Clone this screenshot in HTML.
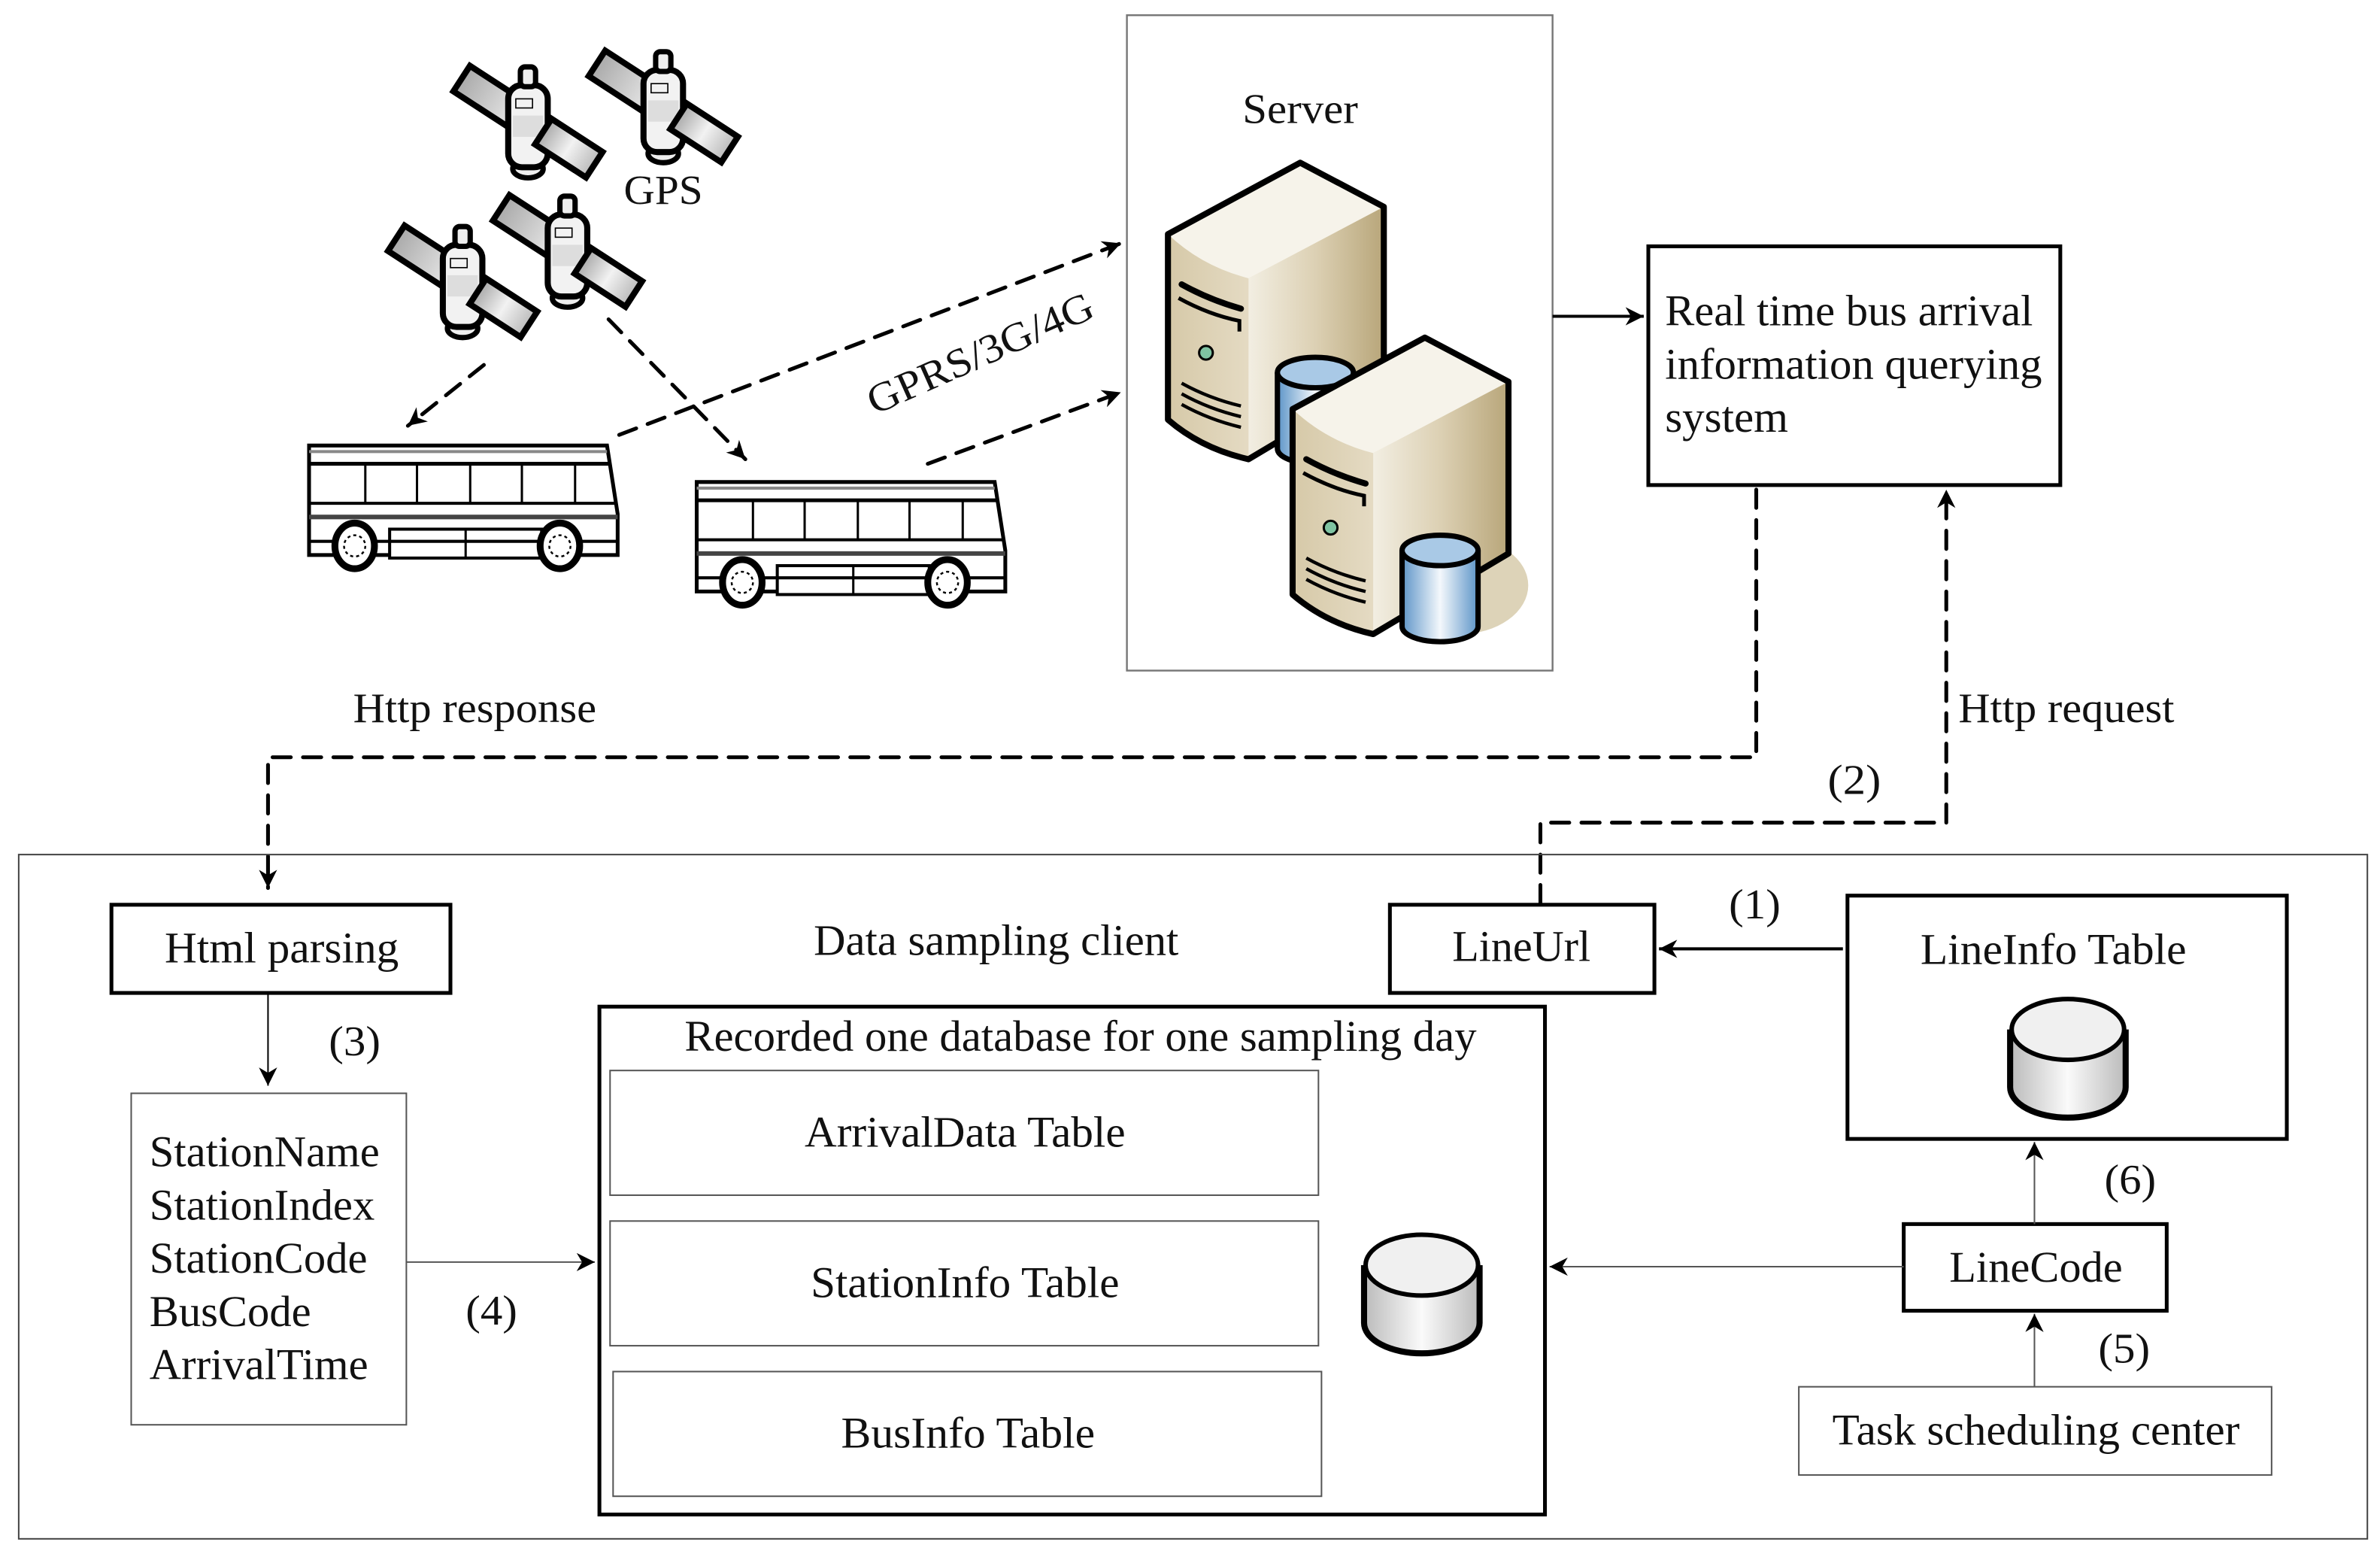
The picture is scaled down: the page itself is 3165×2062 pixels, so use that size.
<!DOCTYPE html>
<html><head><meta charset="utf-8"><style>html,body{margin:0;padding:0;background:#fff}svg{display:block}</style></head>
<body>
<svg width="3165" height="2062" viewBox="0 0 1565 1020" xmlns="http://www.w3.org/2000/svg" font-family="'Liberation Serif', serif" fill="#111">
<defs>
<marker id="ahb" viewBox="0 0 10 10" refX="10" refY="5" markerWidth="14" markerHeight="12" markerUnits="userSpaceOnUse" orient="auto"><path d="M0,0 L10,5 L0,10 L3,5 Z" fill="#000"/></marker>
<linearGradient id="beigeL" x1="0" x2="1"><stop offset="0" stop-color="#d6c9a8"/><stop offset="0.6" stop-color="#ede5d3"/><stop offset="1" stop-color="#e6dcc4"/></linearGradient>
<linearGradient id="beigeR" x1="0" x2="1"><stop offset="0" stop-color="#f2eee2"/><stop offset="0.5" stop-color="#dcd0b3"/><stop offset="1" stop-color="#b8a67a"/></linearGradient>
<linearGradient id="blue" x1="0" x2="1"><stop offset="0" stop-color="#5d95c8"/><stop offset="0.5" stop-color="#f4f8fc"/><stop offset="1" stop-color="#5d95c8"/></linearGradient>
<linearGradient id="gray" x1="0" x2="1"><stop offset="0" stop-color="#bbb"/><stop offset="0.5" stop-color="#fafafa"/><stop offset="1" stop-color="#bbb"/></linearGradient>
<linearGradient id="panel" x1="0" x2="1"><stop offset="0" stop-color="#aaa"/><stop offset="0.5" stop-color="#f2f2f2"/><stop offset="1" stop-color="#bbb"/></linearGradient>
<g id="sat">
  <g transform="rotate(33)">
    <rect x="-52" y="-10" width="104" height="20" fill="url(#panel)" stroke="#000" stroke-width="4"/>
  </g>
  <ellipse cx="0" cy="31" rx="10" ry="6" fill="#eee" stroke="#000" stroke-width="3.5"/>
  <rect x="-13" y="-24" width="26" height="54" rx="9" fill="#f2f2f2" stroke="#000" stroke-width="4"/>
  <rect x="-10" y="-4" width="20" height="14" fill="#ddd"/>
  <rect x="-8" y="-15" width="11" height="6" fill="none" stroke="#000" stroke-width="0.8"/>
  <rect x="-5" y="-36" width="10" height="13" rx="3" fill="#eee" stroke="#000" stroke-width="3.5"/>
  <g transform="rotate(33)"><rect x="12" y="-10" width="40" height="20" fill="url(#panel)" stroke="#000" stroke-width="4"/></g>
</g>
<g id="bus" fill="none" stroke="#000">
  <path d="M0,0 L196,0 L203,45 L203,72 L0,72 Z" fill="#fff" stroke-width="2.5"/>
  <line x1="0" y1="4" x2="196" y2="4" stroke="#888" stroke-width="2"/>
  <line x1="0" y1="12" x2="198" y2="12" stroke-width="2.5"/>
  <line x1="0" y1="38" x2="201" y2="38" stroke-width="2"/>
  <line x1="37" y1="12" x2="37" y2="38" stroke-width="1.5"/>
  <line x1="71" y1="12" x2="71" y2="38" stroke-width="1.5"/>
  <line x1="106" y1="12" x2="106" y2="38" stroke-width="1.5"/>
  <line x1="140" y1="12" x2="140" y2="38" stroke-width="1.5"/>
  <line x1="175" y1="12" x2="175" y2="38" stroke-width="1.5"/>
  <line x1="0" y1="47" x2="203" y2="47" stroke-width="3" stroke="#444"/>
  <rect x="53" y="55" width="100" height="19" fill="#fff" stroke-width="2"/>
  <line x1="103" y1="55" x2="103" y2="74" stroke-width="1.5"/>
  <line x1="0" y1="63" x2="203" y2="63" stroke-width="2"/>
  <ellipse cx="30" cy="66" rx="13" ry="15" fill="#fff" stroke-width="4.5"/>
  <circle cx="30" cy="66" r="7" stroke-width="1.2" stroke-dasharray="2,2"/>
  <ellipse cx="165" cy="66" rx="13" ry="15" fill="#fff" stroke-width="4.5"/>
  <circle cx="165" cy="66" r="7" stroke-width="1.2" stroke-dasharray="2,2"/>
</g>
<g id="server">
  <path d="M768,154 L855,107 L910,136 L910,249 L821,302 Q790,295 768,276 Z" fill="url(#beigeL)"/>
  <path d="M821,183 L910,136 L910,249 L821,302 Z" fill="url(#beigeR)"/>
  <path d="M768,154 L855,107 L910,136 L821,183 Q790,175 768,154 Z" fill="#f6f3ea"/>
  <path d="M768,154 L855,107 L910,136 L910,249 L821,302 Q790,295 768,276 Z" fill="none" stroke="#000" stroke-width="4" stroke-linejoin="round"/>
  <path d="M777,187 Q795,197 816,203" stroke="#000" stroke-width="4" fill="none" stroke-linecap="round"/>
  <path d="M775,196 Q795,207 815,211 L815,218" stroke="#000" stroke-width="2.5" fill="none"/>
  <circle cx="793" cy="232" r="4.5" fill="#7fc3a2" stroke="#000" stroke-width="1.5"/>
  <path d="M777,252 Q795,262 816,267 M777,259 Q795,269 816,274 M777,266 Q795,276 816,281" stroke="#000" stroke-width="2.2" fill="none"/>
</g>
<g id="cyl">
  <path d="M0,10 L0,60 A25,10 0 0 0 50,60 L50,10" fill="url(#blue)" stroke="#000" stroke-width="3.5"/>
  <ellipse cx="25" cy="10" rx="25" ry="10" fill="#a9c9e6" stroke="#000" stroke-width="3.5"/>
</g>
<g id="gcyl">
  <path d="M0,20 L0,58 A38,20 0 0 0 76,58 L76,20" fill="url(#gray)" stroke="#000" stroke-width="4"/>
  <ellipse cx="38" cy="20" rx="37" ry="20" fill="#f0f0f0" stroke="#000" stroke-width="3"/>
</g>
</defs>

<use href="#sat" x="347" y="80"/>
<use href="#sat" x="436" y="70"/>
<use href="#sat" x="304" y="185"/>
<use href="#sat" x="373" y="165"/>
<text x="410" y="134" font-size="27" textLength="52" lengthAdjust="spacingAndGlyphs">GPS</text>

<use href="#bus" x="203" y="293"/>
<use href="#bus" x="458" y="317"/>

<g stroke="#000" stroke-width="2.5" stroke-dasharray="12,8" stroke-linecap="round" fill="none">
  <path d="M318,240 L268,280" marker-end="url(#ahb)"/>
  <path d="M400,210 L490,302" marker-end="url(#ahb)"/>
  <path d="M407,286 L737,160" marker-end="url(#ahb)"/>
  <path d="M610,305 L737,258" marker-end="url(#ahb)"/>
</g>
<text transform="translate(575,273) rotate(-24)" font-size="27" textLength="160" lengthAdjust="spacingAndGlyphs">GPRS/3G/4G</text>

<rect x="741" y="10" width="280" height="431" fill="none" stroke="#777" stroke-width="1.2"/>
<text x="817" y="81" font-size="28" textLength="76" lengthAdjust="spacingAndGlyphs">Server</text>
<use href="#server"/>
<use href="#cyl" x="840" y="235"/>
<ellipse cx="960" cy="385" rx="45" ry="32" fill="#ddd3b8"/>
<use href="#server" transform="translate(82,115)"/>
<use href="#cyl" x="922" y="352"/>

<rect x="1084" y="162" width="271" height="157" fill="none" stroke="#000" stroke-width="2.5"/>
<text x="1095" y="214" font-size="29" textLength="242" lengthAdjust="spacingAndGlyphs">Real time bus arrival</text>
<text x="1095" y="249" font-size="29" textLength="248" lengthAdjust="spacingAndGlyphs">information querying</text>
<text x="1095" y="284" font-size="29" textLength="81" lengthAdjust="spacingAndGlyphs">system</text>
<path d="M1021,208 L1081,208" stroke="#000" stroke-width="2" marker-end="url(#ahb)"/>

<g stroke="#000" stroke-width="2.5" stroke-dasharray="12,8" stroke-linecap="round" fill="none">
  <path d="M1155,322 L1155,498 L176,498 L176,584" marker-end="url(#ahb)"/>
  <path d="M1013,594 L1013,541 L1280,541 L1280,322" marker-end="url(#ahb)"/>
</g>
<text x="232" y="475" font-size="28" textLength="160" lengthAdjust="spacingAndGlyphs">Http response</text>
<text x="1288" y="475" font-size="28" textLength="142" lengthAdjust="spacingAndGlyphs">Http request</text>
<text x="1202" y="522" font-size="28" textLength="35" lengthAdjust="spacingAndGlyphs">(2)</text>

<rect x="12" y="562" width="1545" height="450" fill="none" stroke="#444" stroke-width="1"/>
<rect x="73" y="595" width="223" height="58" fill="none" stroke="#000" stroke-width="2.5"/>
<text x="108" y="633" font-size="29" textLength="154" lengthAdjust="spacingAndGlyphs">Html parsing</text>
<text x="535" y="628" font-size="29" textLength="240" lengthAdjust="spacingAndGlyphs">Data sampling client</text>
<rect x="914" y="595" width="174" height="58" fill="none" stroke="#000" stroke-width="2.5"/>
<text x="955" y="632" font-size="29" textLength="91" lengthAdjust="spacingAndGlyphs">LineUrl</text>
<rect x="1215" y="589" width="289" height="160" fill="none" stroke="#000" stroke-width="2.5"/>
<text x="1263" y="634" font-size="29" textLength="175" lengthAdjust="spacingAndGlyphs">LineInfo Table</text>
<use href="#gcyl" x="1322" y="657"/>
<path d="M1212,624 L1091,624" stroke="#000" stroke-width="2" marker-end="url(#ahb)"/>
<text x="1137" y="604" font-size="28" textLength="34" lengthAdjust="spacingAndGlyphs">(1)</text>

<path d="M176,654 L176,714" stroke="#000" stroke-width="1" marker-end="url(#ahb)"/>
<text x="216" y="694" font-size="28" textLength="34" lengthAdjust="spacingAndGlyphs">(3)</text>

<rect x="86" y="719" width="181" height="218" fill="none" stroke="#555" stroke-width="1"/>
<text font-size="29">
<tspan x="98" y="767">StationName</tspan>
<tspan x="98" y="802">StationIndex</tspan>
<tspan x="98" y="837">StationCode</tspan>
<tspan x="98" y="872">BusCode</tspan>
<tspan x="98" y="907">ArrivalTime</tspan>
</text>
<path d="M267,830 L391,830" stroke="#555" stroke-width="1" marker-end="url(#ahb)"/>
<text x="306" y="871" font-size="28" textLength="34" lengthAdjust="spacingAndGlyphs">(4)</text>

<rect x="394" y="662" width="622" height="334" fill="none" stroke="#000" stroke-width="2.5"/>
<text x="450" y="691" font-size="29" textLength="521" lengthAdjust="spacingAndGlyphs">Recorded one database for one sampling day</text>
<rect x="401" y="704" width="466" height="82" fill="none" stroke="#555" stroke-width="1"/>
<rect x="401" y="803" width="466" height="82" fill="none" stroke="#555" stroke-width="1"/>
<rect x="403" y="902" width="466" height="82" fill="none" stroke="#555" stroke-width="1"/>
<text x="529" y="754" font-size="29" textLength="211" lengthAdjust="spacingAndGlyphs">ArrivalData Table</text>
<text x="533" y="853" font-size="29" textLength="203" lengthAdjust="spacingAndGlyphs">StationInfo Table</text>
<text x="553" y="952" font-size="29" textLength="167" lengthAdjust="spacingAndGlyphs">BusInfo Table</text>
<use href="#gcyl" x="897" y="812"/>

<rect x="1252" y="805" width="173" height="57" fill="none" stroke="#000" stroke-width="2.5"/>
<text x="1282" y="843" font-size="29" textLength="114" lengthAdjust="spacingAndGlyphs">LineCode</text>
<path d="M1252,833 L1019,833" stroke="#555" stroke-width="1" marker-end="url(#ahb)"/>
<path d="M1338,805 L1338,751" stroke="#555" stroke-width="1" marker-end="url(#ahb)"/>
<text x="1384" y="785" font-size="28" textLength="34" lengthAdjust="spacingAndGlyphs">(6)</text>
<rect x="1183" y="912" width="311" height="58" fill="none" stroke="#555" stroke-width="1"/>
<text x="1205" y="950" font-size="29" textLength="268" lengthAdjust="spacingAndGlyphs">Task scheduling center</text>
<path d="M1338,912 L1338,864" stroke="#555" stroke-width="1" marker-end="url(#ahb)"/>
<text x="1380" y="896" font-size="28" textLength="34" lengthAdjust="spacingAndGlyphs">(5)</text>
</svg>
</body></html>
